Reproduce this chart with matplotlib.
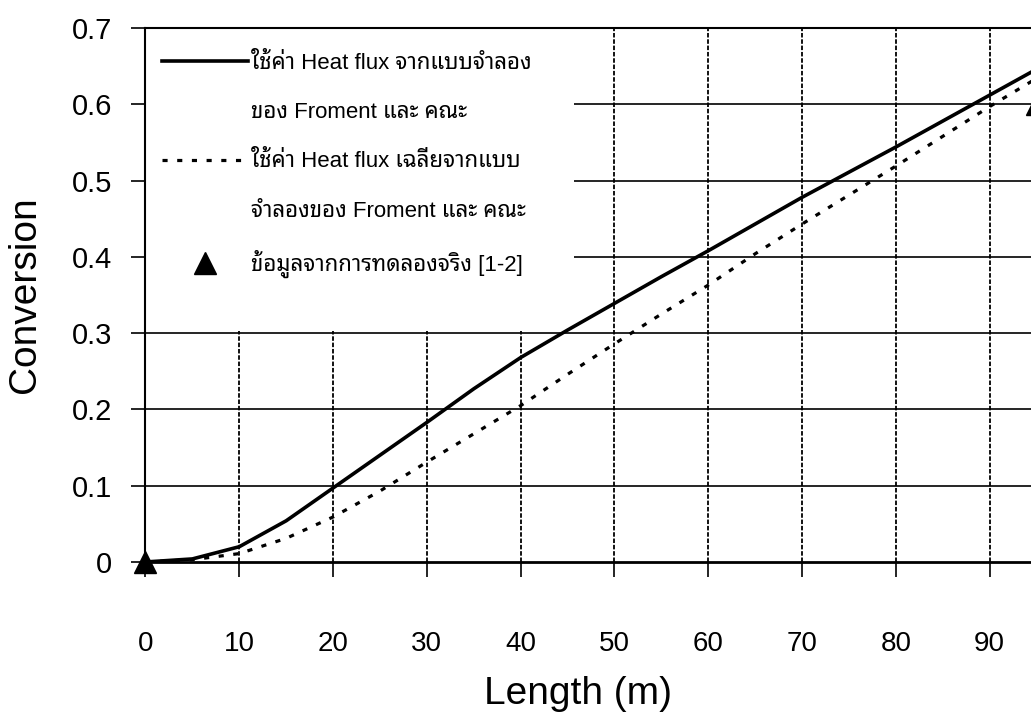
import matplotlib
matplotlib.use("Agg")
import matplotlib.pyplot as plt
from matplotlib import font_manager
from matplotlib.lines import Line2D
from matplotlib.patches import Rectangle

# ---- data -------------------------------------------------------------
length_m = [0, 5, 10, 15, 20, 25, 30, 35, 40, 45, 50, 55, 60, 65, 70, 75, 80, 85, 90, 95]
conv_model = [0.0, 0.004, 0.020, 0.054, 0.097, 0.140, 0.183, 0.227, 0.268, 0.304, 0.339,
              0.374, 0.408, 0.443, 0.478, 0.511, 0.544, 0.578, 0.612, 0.646]
conv_avg = [0.0, 0.003, 0.011, 0.031, 0.059, 0.093, 0.131, 0.168, 0.205, 0.246, 0.286,
            0.325, 0.363, 0.404, 0.443, 0.481, 0.519, 0.558, 0.597, 0.634]
exp_length = [0, 95]
exp_conv = [0.0, 0.60]

x_ticks = [0, 10, 20, 30, 40, 50, 60, 70, 80, 90]
y_ticks = [0, 0.1, 0.2, 0.3, 0.4, 0.5, 0.6, 0.7]
y_tick_labels = ["0", "0.1", "0.2", "0.3", "0.4", "0.5", "0.6", "0.7"]

label_model = ["ใช้ค่า Heat flux จากแบบจำลอง", "ของ Froment และ คณะ"]
label_avg = ["ใช้ค่า Heat flux เฉลี่ยจากแบบ", "จำลองของ Froment และ คณะ"]
label_exp = "ข้อมูลจากการทดลองจริง [1-2]"


def thai_font():
    """Pick an installed family that covers Thai, preferring a looped sans."""
    from fontTools.ttLib import TTFont
    found = []
    for f in font_manager.fontManager.ttflist:
        try:
            tt = TTFont(f.fname, fontNumber=0, lazy=True)
            cmap = tt.getBestCmap()
            if cmap and 0x0E01 in cmap and f.name not in found:
                found.append(f.name)
        except Exception:
            continue
    for pref in ["Noto Sans Thai Looped", "Noto Sans Thai", "IBM Plex Sans Thai Looped"]:
        if pref in found:
            return pref
    return found[0] if found else None


thai = thai_font()
# Latin glyphs from Liberation Sans, Thai glyphs from the Thai family
legend_family = ["Liberation Sans", thai] if thai else ["Liberation Sans"]

plt.rcParams["font.family"] = ["Liberation Sans", "DejaVu Sans"]

fig = plt.figure(figsize=(10.31, 7.12), dpi=100)
ax = fig.add_axes([0.1411, 0.2107, 0.9098, 0.75])
ax.set_xlim(0, 100)
ax.set_ylim(0, 0.7)

# grid: dashed verticals, solid horizontals
for xv in x_ticks[1:]:
    ax.axvline(xv, color="black", lw=1.3, ls=(0, (2.5, 1)), zorder=1)
for yv in y_ticks[1:-1]:
    ax.axhline(yv, color="black", lw=1.2, zorder=1)

# blank area behind the legend
ax.add_patch(Rectangle((0, 0.303), 45.7, 0.397, facecolor="white", edgecolor="none", zorder=2))

ax.plot(length_m, conv_model, color="black", lw=2.6, zorder=4)
ax.plot(length_m, conv_avg, color="black", lw=2.3, ls=(0, (1.6, 3.0)), zorder=4)
ax.plot(exp_length, exp_conv, ls="none", marker="^", ms=16, color="black", clip_on=False, zorder=5)

for s in ["left", "top"]:
    ax.spines[s].set_linewidth(1.5)
ax.spines["bottom"].set_linewidth(2.0)
ax.spines["right"].set_visible(False)

ax.set_xticks(x_ticks)
ax.set_yticks(y_ticks)
ax.set_yticklabels(y_tick_labels)
ax.tick_params(axis="x", direction="out", length=11, width=1.2, pad=38.5, labelsize=20)
ax.tick_params(axis="y", direction="out", length=10, width=1.2, pad=14, labelsize=21)

ax.set_xlabel("Length (m)", fontsize=28)
ax.xaxis.set_label_coords(0.461, -0.214)
ax.set_ylabel("Conversion", fontsize=28)
ax.yaxis.set_label_coords(-0.109, 0.5)

blank = Line2D([], [], ls="none")
handles = [
    Line2D([], [], color="black", lw=2.6),
    blank,
    Line2D([], [], color="black", lw=2.3, ls=(0, (1.6, 3.0))),
    blank,
    Line2D([], [], ls="none", marker="^", ms=16, color="black"),
]
labels = [label_model[0], label_model[1], label_avg[0], label_avg[1], label_exp]
leg = ax.legend(handles, labels, loc="upper left",
                bbox_to_anchor=(162 / 1031, (712 - 53) / 712), bbox_transform=fig.transFigure,
                frameon=False, borderpad=0, borderaxespad=0, handlelength=3.85,
                handletextpad=0.15, labelspacing=1.27,
                prop={"family": legend_family, "size": 16})
leg.set_zorder(6)

fig.savefig("out.png", dpi=100)
